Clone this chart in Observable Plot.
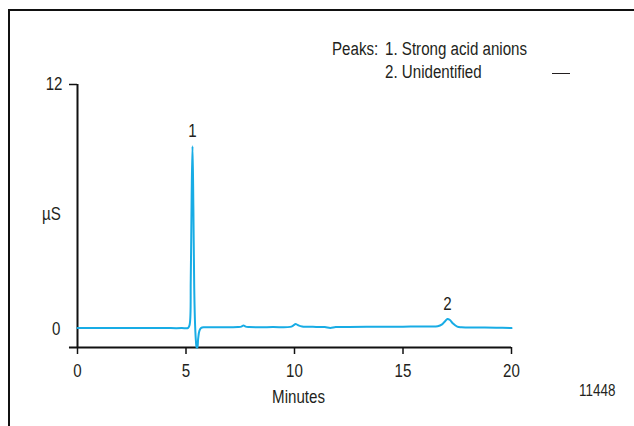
<!DOCTYPE html>
<html>
<head>
<meta charset="utf-8">
<script src="https://cdn.jsdelivr.net/npm/d3@7"></script>
<script src="https://cdn.jsdelivr.net/npm/@observablehq/plot@0.6"></script>
<style>
  html, body { margin: 0; padding: 0; background: #fff; }
  #wrap { position: relative; width: 634px; height: 426px; overflow: hidden;
          font-family: "Liberation Sans", Arial, sans-serif; color: #231f20; }
  #border { position: absolute; left: 8px; top: 9px; width: 640px; height: 430px;
            border-top: 2px solid #111; border-left: 2px solid #111; }
  .t { position: absolute; font-size: 18px; white-space: pre; line-height: 1;
       transform: scaleX(0.84); transform-origin: left top; }
  .dash { position: absolute; left: 552px; top: 73px; width: 18px; border-top: 1.2px solid #231f20; }
</style>
</head>
<body>
<div id="wrap">
  <div id="border"></div>
  <div id="chart"></div>
  <div class="t" style="left:332px; top:40px;">Peaks:</div>
  <div class="t" style="left:385px; top:40px;">1. Strong acid anions</div>
  <div class="t" style="left:385px; top:63px;">2. Unidentified</div>
  <div class="dash"></div>
  <div class="t" style="left:579px; top:383px; font-size:16px;">11448</div>
</div>
<script>
// Conductivity trace (µS) vs retention time (minutes)
const minutes = [0, 1, 2, 3, 4, 4.8, 5.1, 5.17, 5.22, 5.26, 5.30, 5.34, 5.38, 5.42, 5.46, 5.49, 5.52, 5.56, 5.62, 5.7, 5.85, 6.5,
  7.4, 7.55, 7.65, 7.75, 7.9, 9, 9.8, 9.95, 10.05, 10.15, 10.35, 11, 11.4, 11.65, 11.9, 12.5, 14, 15, 16, 16.6, 16.8, 16.95, 17.05, 17.15,
  17.3, 17.5, 17.7, 18.5, 19.3, 20];
const microS = [0.08, 0.08, 0.07, 0.07, 0.07, 0.07, 0.08, 0.25, 2.5, 6.5, 8.97, 6.0, 2.0, 0.2, -0.6, -0.88, -0.88, -0.45, -0.05, 0.08, 0.11, 0.11,
  0.12, 0.14, 0.2, 0.14, 0.12, 0.12, 0.13, 0.2, 0.27, 0.22, 0.15, 0.13, 0.12, 0.08, 0.12, 0.13, 0.14, 0.14, 0.15, 0.16, 0.25, 0.42, 0.52, 0.48,
  0.3, 0.14, 0.11, 0.1, 0.09, 0.07];

const peakLabels = ["1", "2"];
const peakTimes = [5.3, 17.05];
const peakHeights = [8.97, 0.52];

const xTicks = [0, 5, 10, 15, 20];
const yMin = -0.88, yMax = 12;

const trace = minutes.map((m, i) => ({m, v: microS[i]}));
const peaks = peakLabels.map((label, i) => ({label, m: peakTimes[i], v: peakHeights[i]}));

const chart = Plot.plot({
  width: 634,
  height: 426,
  marginLeft: 77,
  marginRight: 123,
  marginTop: 84,
  marginBottom: 79,
  style: {fontFamily: `"Liberation Sans", Arial, sans-serif`, fontSize: "18px", color: "#231f20", background: "transparent", overflow: "visible"},
  x: {domain: [0, 20]},
  y: {domain: [yMin, yMax]},
  marks: [
    // axis lines
    Plot.ruleY([yMin], {x1: -0.37, x2: 20, stroke: "#111", strokeWidth: 2}),
    Plot.ruleX([0], {y1: yMin, y2: yMax, stroke: "#111", strokeWidth: 2}),
    Plot.axisX({ticks: xTicks, tickSize: 7, tickPadding: 10, tickFormat: d => String(d), label: null, stroke: "#111", strokeWidth: 1.5}),
    Plot.axisY({ticks: [yMax], tickSize: 8, tickPadding: 7, tickFormat: d => String(d), label: null, stroke: "#111", strokeWidth: 1.5, anchor: "left"}),
    Plot.axisY({ticks: [0], tickSize: 0, tickPadding: 17, tickFormat: d => String(d), label: null, anchor: "left"}),
    Plot.text(["Minutes"], {frameAnchor: "bottom", dx: 4, dy: 55, fontSize: 18, textAnchor: "middle"}),
    Plot.text(["µS"], {frameAnchor: "left", textAnchor: "middle", dx: -26, dy: -2, fontSize: 18}),
    // chromatogram
    Plot.line(trace, {x: "m", y: "v", stroke: "#18ace5", strokeWidth: 2, curve: "catmull-rom"}),
    Plot.text(peaks, {x: "m", y: "v", text: "label", dy: -15, fontSize: 18})
  ]
});

// condense the lettering horizontally, keeping each label's anchor in place
chart.querySelectorAll("text").forEach(el => {
  const tr = el.getAttribute("transform") || "";
  el.setAttribute("transform", `${tr} scale(0.84,1)`.trim());
});

chart.style.position = "absolute";
chart.style.left = "0px";
chart.style.top = "0px";
document.getElementById("chart").appendChild(chart);
</script>
</body>
</html>
